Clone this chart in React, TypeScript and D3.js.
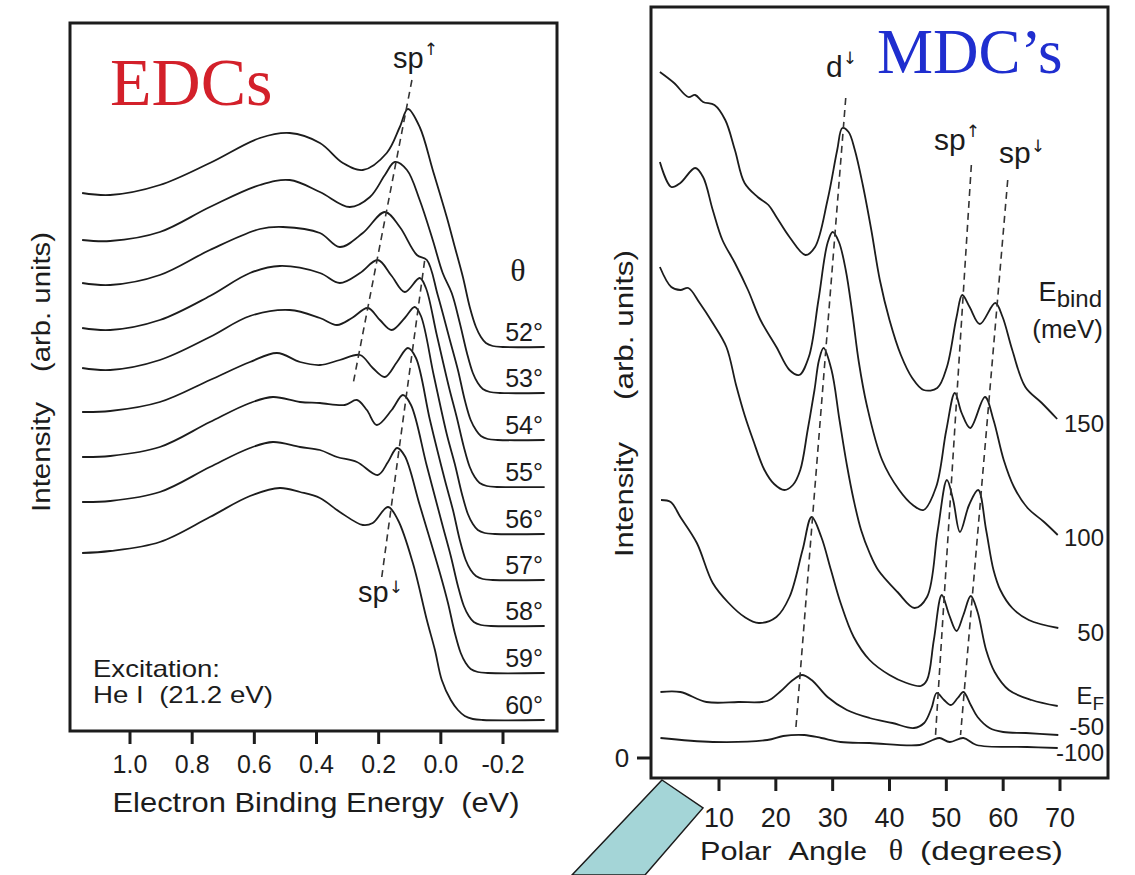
import React from "react";
import * as d3 from "d3";

type Pt = [number, number];

// ---------- EDC panel: binding energy (eV) vs intensity above each trace's baseline ----------
const edcAngleLabels = ["52°", "53°", "54°", "55°", "56°", "57°", "58°", "59°", "60°"];
const edcOffsets = [38.4, 33.8, 29.1, 24.4, 19.7, 15.1, 10.5, 5.8, 1.1];
const edcTicks = [1.0, 0.8, 0.6, 0.4, 0.2, 0.0, -0.2];
const edcTickLabels = ["1.0", "0.8", "0.6", "0.4", "0.2", "0.0", "-0.2"];

const edc52: Pt[] = [[1.154,15.4],[1.064,15.2],[0.904,16.2],[0.743,18.4],[0.582,20.9],[0.486,21.4],[0.389,20.4],[0.315,18.4],[0.251,17.7],[0.174,19.4],[0.132,22.0],[0.106,23.8],[0.068,22.0],[0.026,17.7],[-0.019,13.0],[-0.045,10.0],[-0.071,7.0],[-0.093,4.0],[-0.113,2.0],[-0.129,1.0],[-0.145,0.4],[-0.167,0.1],[-0.199,0],[-0.334,0]];
const edc53: Pt[] = [[1.154,15.3],[1.064,15.2],[0.904,16.1],[0.743,18.6],[0.582,20.8],[0.486,21.3],[0.389,20.1],[0.293,18.6],[0.228,19.6],[0.180,21.8],[0.148,23.1],[0.109,22.3],[0.068,19.3],[0.026,15.3],[-0.006,12.0],[-0.035,10.0],[-0.061,7.0],[-0.084,4.0],[-0.103,2.0],[-0.119,1.0],[-0.135,0.4],[-0.158,0.1],[-0.190,0],[-0.334,0]];
const edc54: Pt[] = [[1.154,15.7],[1.064,15.5],[0.904,16.5],[0.743,19.0],[0.582,21.1],[0.508,21.3],[0.389,20.7],[0.325,19.3],[0.251,20.7],[0.180,22.8],[0.132,21.3],[0.077,18.5],[0.045,18.0],[0.010,14.5],[-0.029,10.0],[-0.055,7.0],[-0.077,4.0],[-0.096,2.0],[-0.113,1.0],[-0.129,0.4],[-0.151,0.1],[-0.183,0],[-0.334,0]];
const edc55: Pt[] = [[1.154,15.9],[1.064,15.7],[0.904,16.7],[0.743,19.1],[0.614,21.4],[0.518,22.1],[0.389,21.4],[0.325,20.4],[0.260,21.4],[0.203,22.7],[0.158,21.1],[0.116,19.5],[0.068,20.9],[0.048,19.9],[0.013,15.2],[-0.026,10.0],[-0.051,7.0],[-0.074,4.0],[-0.093,2.0],[-0.109,1.0],[-0.125,0.4],[-0.148,0.1],[-0.180,0],[-0.334,0]];
const edc56: Pt[] = [[1.154,16.6],[1.064,16.4],[0.904,17.4],[0.743,19.7],[0.614,21.8],[0.486,22.4],[0.389,21.6],[0.334,20.9],[0.286,21.6],[0.235,22.6],[0.196,21.4],[0.158,20.4],[0.116,21.6],[0.084,22.7],[0.064,21.8],[0.023,15.9],[-0.019,10.0],[-0.045,7.0],[-0.068,4.0],[-0.087,2.0],[-0.103,1.0],[-0.119,0.4],[-0.141,0.1],[-0.174,0],[-0.334,0]];
const edc57: Pt[] = [[1.154,16.8],[1.064,16.9],[0.904,17.8],[0.743,20.0],[0.614,21.8],[0.527,22.7],[0.453,21.8],[0.389,21.5],[0.325,22.0],[0.260,22.5],[0.219,21.2],[0.180,20.3],[0.141,21.8],[0.106,23.2],[0.080,22.2],[0.035,16.0],[-0.013,10.0],[-0.039,7.0],[-0.061,4.0],[-0.080,2.0],[-0.096,1.0],[-0.113,0.4],[-0.135,0.1],[-0.167,0],[-0.334,0]];
const edc58: Pt[] = [[1.154,16.9],[1.064,17.0],[0.904,17.9],[0.743,20.4],[0.614,22.3],[0.540,22.9],[0.453,22.4],[0.389,22.3],[0.309,22.1],[0.270,22.6],[0.238,21.6],[0.206,20.1],[0.158,21.6],[0.122,23.1],[0.096,22.1],[0.045,16.0],[-0.006,10.0],[-0.032,7.0],[-0.055,4.0],[-0.074,2.0],[-0.090,1.0],[-0.106,0.4],[-0.129,0.1],[-0.161,0],[-0.334,0]];
const edc59: Pt[] = [[1.154,17.1],[1.064,17.2],[0.904,18.1],[0.743,20.6],[0.614,22.5],[0.540,23.1],[0.453,22.6],[0.389,22.3],[0.334,21.6],[0.270,21.1],[0.203,19.8],[0.170,21.1],[0.141,22.5],[0.116,21.7],[0.068,16.8],[0.003,10.0],[-0.023,7.0],[-0.045,4.0],[-0.064,2.0],[-0.080,1.0],[-0.096,0.4],[-0.119,0.1],[-0.151,0],[-0.334,0]];
const edc60: Pt[] = [[1.154,16.7],[1.064,16.9],[0.904,17.8],[0.743,20.3],[0.614,22.4],[0.518,23.2],[0.453,22.8],[0.389,22.2],[0.325,20.8],[0.251,19.5],[0.219,19.7],[0.170,21.3],[0.138,20.0],[0.090,15.7],[0.045,10.0],[0.019,7.0],[-0.003,4.0],[-0.032,2.0],[-0.055,1.0],[-0.077,0.4],[-0.103,0.1],[-0.135,0],[-0.334,0]];
const edcCurves = [edc52, edc53, edc54, edc55, edc56, edc57, edc58, edc59, edc60];

// dispersion guides through the sp peaks (E, absolute intensity)
const edcSpUpGuide: Pt[] = [[0.093, 65.1], [0.283, 34.6]];
const edcSpDownGuide: Pt[] = [[0.190, 15.4], [0.051, 47.3]];

// ---------- MDC panel: polar angle (deg) vs intensity ----------
const mdcTicks = [10, 20, 30, 40, 50, 60, 70];
const mdc150: Pt[] = [[-0.4,68.6],[2.1,67.5],[4.6,66.1],[5.8,66.3],[7.2,65.6],[9.2,65.3],[11.1,63.8],[12.8,60.8],[14.5,57.5],[16.8,56.1],[18.7,55.3],[20.1,54.1],[22.4,52.1],[25.2,50.3],[26.9,51.1],[29.1,55.8],[30.8,60.8],[31.7,63.0],[32.8,62.6],[33.9,60.8],[35.3,57.3],[36.8,52.8],[38.3,47.8],[40.0,43.8],[42.0,40.3],[44.0,38.0],[46.0,36.8],[48.4,37.0],[50.1,39.1],[51.8,44.1],[52.8,46.3],[54.1,45.1],[55.9,43.4],[58.6,45.5],[59.9,44.1],[61.6,40.8],[63.9,37.1],[66.8,35.5],[69.5,33.9]];
const mdc100: Pt[] = [[-0.4,59.6],[1.6,57.1],[3.2,57.5],[5.8,59.0],[7.2,58.1],[8.9,54.8],[10.6,51.8],[12.8,49.5],[15.1,46.8],[17.3,43.8],[20.1,41.1],[22.4,38.8],[24.1,38.3],[25.8,40.1],[27.5,45.8],[29.1,51.5],[30.0,52.6],[31.1,51.6],[32.3,48.8],[33.5,44.3],[34.6,39.6],[36.0,35.3],[38.7,29.8],[41.7,26.8],[44.1,25.3],[46.0,24.8],[48.2,27.1],[50.0,32.8],[51.5,36.5],[52.7,34.5],[54.2,33.0],[56.8,36.1],[58.3,33.8],[60.1,29.8],[61.9,27.1],[64.3,25.0],[67.2,23.6],[69.6,22.3]];
const mdc50: Pt[] = [[-0.4,49.1],[1.6,47.1],[3.2,46.8],[4.6,47.0],[6.6,45.5],[8.9,43.5],[11.3,41.1],[13.0,37.3],[14.5,34.3],[16.0,31.8],[18.0,28.8],[19.7,27.4],[21.5,26.8],[23.0,27.3],[24.3,28.8],[25.6,32.8],[26.8,36.8],[27.6,39.8],[28.4,41.0],[29.8,38.8],[31.2,33.8],[32.5,29.3],[33.7,25.8],[35.0,22.8],[36.5,20.5],[38.0,18.8],[41.4,16.6],[44.4,15.0],[46.6,16.1],[48.5,22.8],[50.1,27.8],[51.2,25.8],[52.4,22.6],[54.0,25.3],[55.6,26.8],[57.0,22.8],[58.3,18.8],[59.5,16.8],[61.6,15.0],[64.5,13.8],[69.7,13.0]];
const mdcEF: Pt[] = [[-0.2,25.8],[1.5,25.6],[3.2,24.1],[6.1,21.5],[8.9,17.5],[11.7,15.5],[14.5,14.1],[17.0,13.5],[20.1,14.1],[22.4,16.1],[24.7,20.8],[26.3,24.1],[28.0,22.1],[29.7,18.8],[31.4,15.5],[33.7,12.1],[36.5,9.8],[40.0,8.3],[43.0,7.5],[45.5,7.2],[46.6,7.8],[47.8,11.8],[49.2,16.3],[50.5,14.3],[51.8,12.7],[53.0,14.3],[54.3,16.2],[55.5,14.6],[57.0,10.8],[58.5,8.6],[61.0,6.8],[65.0,5.8],[69.6,5.2]];
const mdcMinus50: Pt[] = [[-0.3,6.6],[3.2,6.6],[7.8,5.6],[13.4,5.6],[18.5,5.7],[20.7,6.6],[23.0,7.8],[24.6,8.3],[26.3,7.8],[29.1,6.1],[32.5,4.8],[36.5,4.0],[40.5,3.5],[44.3,3.0],[46.1,3.5],[47.4,5.0],[48.3,6.5],[49.6,5.8],[50.8,5.3],[52.0,6.0],[53.0,6.6],[54.3,5.3],[55.5,4.1],[57.6,3.0],[60.0,2.6],[64.0,2.5],[69.7,2.3]];
const mdcMinus100: Pt[] = [[-0.3,2.0],[8.9,1.6],[18.5,1.8],[21.3,2.2],[25.0,2.3],[28.0,2.0],[31.4,1.6],[36.5,1.5],[45.3,1.3],[47.6,1.8],[48.8,2.0],[50.6,1.6],[53.0,2.0],[55.3,1.3],[64.2,1.1],[69.6,1.0]];
const mdcCurves = [mdc150, mdc100, mdc50, mdcEF, mdcMinus50, mdcMinus100];

const mdcDDownGuide: Pt[] = [[32.3, 66.0], [23.5, 2.8]];
const mdcSpUpGuide: Pt[] = [[54.4, 59.3], [48.1, 2.3]];
const mdcSpDownGuide: Pt[] = [[60.8, 57.8], [52.5, 2.3]];

const SANS = "'Liberation Sans', Arial, Helvetica, sans-serif";
const SERIF = "'Liberation Serif', 'Times New Roman', serif";
const ARROW = "'DejaVu Sans', sans-serif";
const INK = "#1c1c1c";
const NB = "\u00a0";

export default function App() {
  // scales
  const xE = d3.scaleLinear().domain([1.0, -0.2]).range([130, 503]);
  const yE = d3.scaleLinear().domain([0, 70.8]).range([731, 23]);
  const xT = d3.scaleLinear().domain([10, 70]).range([719, 1060]);
  const yT = d3.scaleLinear().domain([0, 75]).range([758, 8]);
  const smooth = d3.curveCatmullRom.alpha(0.5);

  const edcPath = (pts: Pt[], off: number) =>
    d3.line<Pt>().x((d) => xE(d[0])).y((d) => yE(d[1] + off)).curve(smooth)(pts) || "";
  const edcGuide = d3.line<Pt>().x((d) => xE(d[0])).y((d) => yE(d[1]));
  const mdcPath = d3.line<Pt>().x((d) => xT(d[0])).y((d) => yT(d[1])).curve(smooth);
  const mdcGuide = d3.line<Pt>().x((d) => xT(d[0])).y((d) => yT(d[1]));

  const curveStyle = { fill: "none", stroke: INK, strokeWidth: 1.8, strokeLinejoin: "round" as const };
  const dashStyle = { fill: "none", stroke: "#333", strokeWidth: 1.6, strokeDasharray: "7 5" };

  // right-hand trace labels: [text, subscript, baseline y]
  const mdcLabelRows: [string, string, number][] = [
    ["150", "", 432],
    ["100", "", 546],
    ["50", "", 641],
    ["E", "F", 704],
    ["-50", "", 735],
    ["-100", "", 761],
  ];

  return (
    <svg
      width={1135}
      height={875}
      viewBox="0 0 1135 875"
      style={{ position: "absolute", left: 0, top: 0, background: "#fff" }}
    >
      <rect x={0} y={0} width={1135} height={875} fill="#fff" />

      {/* ================= EDC panel ================= */}
      <g>
        <rect x={70} y={23} width={487} height={708} fill="none" stroke={INK} strokeWidth={3} />
        {edcTicks.map((t, i) => (
          <g key={"et" + i}>
            <line x1={xE(t)} x2={xE(t)} y1={731} y2={744} stroke={INK} strokeWidth={3} />
            <text x={xE(t)} y={773} textAnchor="middle" fontFamily={SANS} fontSize={25} fill={INK}>
              {edcTickLabels[i]}
            </text>
          </g>
        ))}
        <text x={316} y={812} textAnchor="middle" fontFamily={SANS} fontSize={28} fill={INK}
          textLength={407} lengthAdjust="spacingAndGlyphs">
          {"Electron Binding Energy" + NB + NB + "(eV)"}
        </text>
        <text transform="translate(50,512) rotate(-90)" fontFamily={SANS} fontSize={25} fill={INK}
          textLength={110} lengthAdjust="spacingAndGlyphs">Intensity</text>
        <text transform="translate(50,372) rotate(-90)" fontFamily={SANS} fontSize={25} fill={INK}
          textLength={140} lengthAdjust="spacingAndGlyphs">(arb. units)</text>

        {edcCurves.map((c, i) => (
          <path key={"edc" + i} d={edcPath(c, edcOffsets[i])} style={curveStyle} />
        ))}
        <path d={edcGuide(edcSpUpGuide) || ""} style={dashStyle} />
        <path d={edcGuide(edcSpDownGuide) || ""} style={dashStyle} />

        {edcAngleLabels.map((lab, i) => (
          <text key={"ea" + i} x={543} y={yE(edcOffsets[i]) - 6} textAnchor="end"
            fontFamily={SANS} fontSize={25} fill={INK}>{lab}</text>
        ))}

        <text x={110} y={105} fontFamily={SERIF} fontSize={68} fill="#d3202a">EDCs</text>
        <text x={393} y={68} fontFamily={SANS} fontSize={29} fill={INK}>
          sp<tspan fontFamily={ARROW} fontSize={17} dy={-13}>↑</tspan>
        </text>
        <text x={358} y={602} fontFamily={SANS} fontSize={29} fill={INK}>
          sp<tspan fontFamily={ARROW} fontSize={17} dy={-9}>↓</tspan>
        </text>
        <text x={518} y={281} textAnchor="middle" fontFamily={SERIF} fontSize={32} fill={INK}>θ</text>
        <text x={93} y={677} fontFamily={SANS} fontSize={24} fill={INK}
          textLength={127} lengthAdjust="spacingAndGlyphs">Excitation:</text>
        <text x={93} y={703} fontFamily={SANS} fontSize={24} fill={INK}
          textLength={180} lengthAdjust="spacingAndGlyphs">{"He I" + NB + NB + "(21.2 eV)"}</text>
      </g>

      {/* ================= MDC panel ================= */}
      <g>
        <rect x={651} y={7} width={457} height={771} fill="none" stroke={INK} strokeWidth={3} />
        {mdcTicks.map((t) => (
          <g key={"mt" + t}>
            <line x1={xT(t)} x2={xT(t)} y1={778} y2={791} stroke={INK} strokeWidth={3} />
            <text x={xT(t)} y={827} textAnchor="middle" fontFamily={SANS} fontSize={27} fill={INK}>{t}</text>
          </g>
        ))}
        <line x1={637} x2={651} y1={yT(0)} y2={yT(0)} stroke={INK} strokeWidth={3} />
        <text x={622} y={yT(0) + 9} textAnchor="middle" fontFamily={SANS} fontSize={26} fill={INK}>0</text>

        <text x={700} y={860} fontFamily={SANS} fontSize={26} fill={INK}
          textLength={167} lengthAdjust="spacingAndGlyphs">{"Polar" + NB + NB + "Angle"}</text>
        <text x={896} y={860} textAnchor="middle" fontFamily={SERIF} fontSize={30} fill={INK}>θ</text>
        <text x={920} y={860} fontFamily={SANS} fontSize={26} fill={INK}
          textLength={143} lengthAdjust="spacingAndGlyphs">(degrees)</text>

        <text transform="translate(633,557) rotate(-90)" fontFamily={SANS} fontSize={25} fill={INK}
          textLength={115} lengthAdjust="spacingAndGlyphs">Intensity</text>
        <text transform="translate(633,400) rotate(-90)" fontFamily={SANS} fontSize={25} fill={INK}
          textLength={150} lengthAdjust="spacingAndGlyphs">(arb. units)</text>

        {mdcCurves.map((c, i) => (
          <path key={"mdc" + i} d={mdcPath(c) || ""} style={curveStyle} />
        ))}
        <path d={mdcGuide(mdcDDownGuide) || ""} style={dashStyle} />
        <path d={mdcGuide(mdcSpUpGuide) || ""} style={dashStyle} />
        <path d={mdcGuide(mdcSpDownGuide) || ""} style={dashStyle} />

        <text x={877} y={73} fontFamily={SERIF} fontSize={63} fill="#1f2ecf">MDC’s</text>
        <text x={826} y={77} fontFamily={SANS} fontSize={30} fill={INK}>
          d<tspan fontFamily={ARROW} fontSize={17} dy={-13}>↓</tspan>
        </text>
        <text x={934} y={150} fontFamily={SANS} fontSize={30} fill={INK}>
          sp<tspan fontFamily={ARROW} fontSize={17} dy={-13}>↑</tspan>
        </text>
        <text x={999} y={163} fontFamily={SANS} fontSize={30} fill={INK}>
          sp<tspan fontFamily={ARROW} fontSize={17} dy={-11}>↓</tspan>
        </text>

        <g fontFamily={SANS} fill={INK} stroke="#fff" strokeWidth={5} paintOrder="stroke">
          <text x={1102} y={301} textAnchor="end" fontSize={27}>
            E<tspan fontSize={24} dy={6}>bind</tspan>
          </text>
          <text x={1103} y={338} textAnchor="end" fontSize={26}>(meV)</text>
          {mdcLabelRows.map(([t, sub, y]) => (
            <text key={"ml" + t} x={1104} y={y} textAnchor="end" fontSize={24}>
              {t}
              {sub ? <tspan fontSize={19} dy={6}>{sub}</tspan> : null}
            </text>
          ))}
        </g>
      </g>

      {/* teal bar at the lower left corner of the angle panel */}
      <polygon points="662,780 703,808 645,875 572,875" fill="#a4d5d7" stroke={INK} strokeWidth={1.5} />
    </svg>
  );
}
